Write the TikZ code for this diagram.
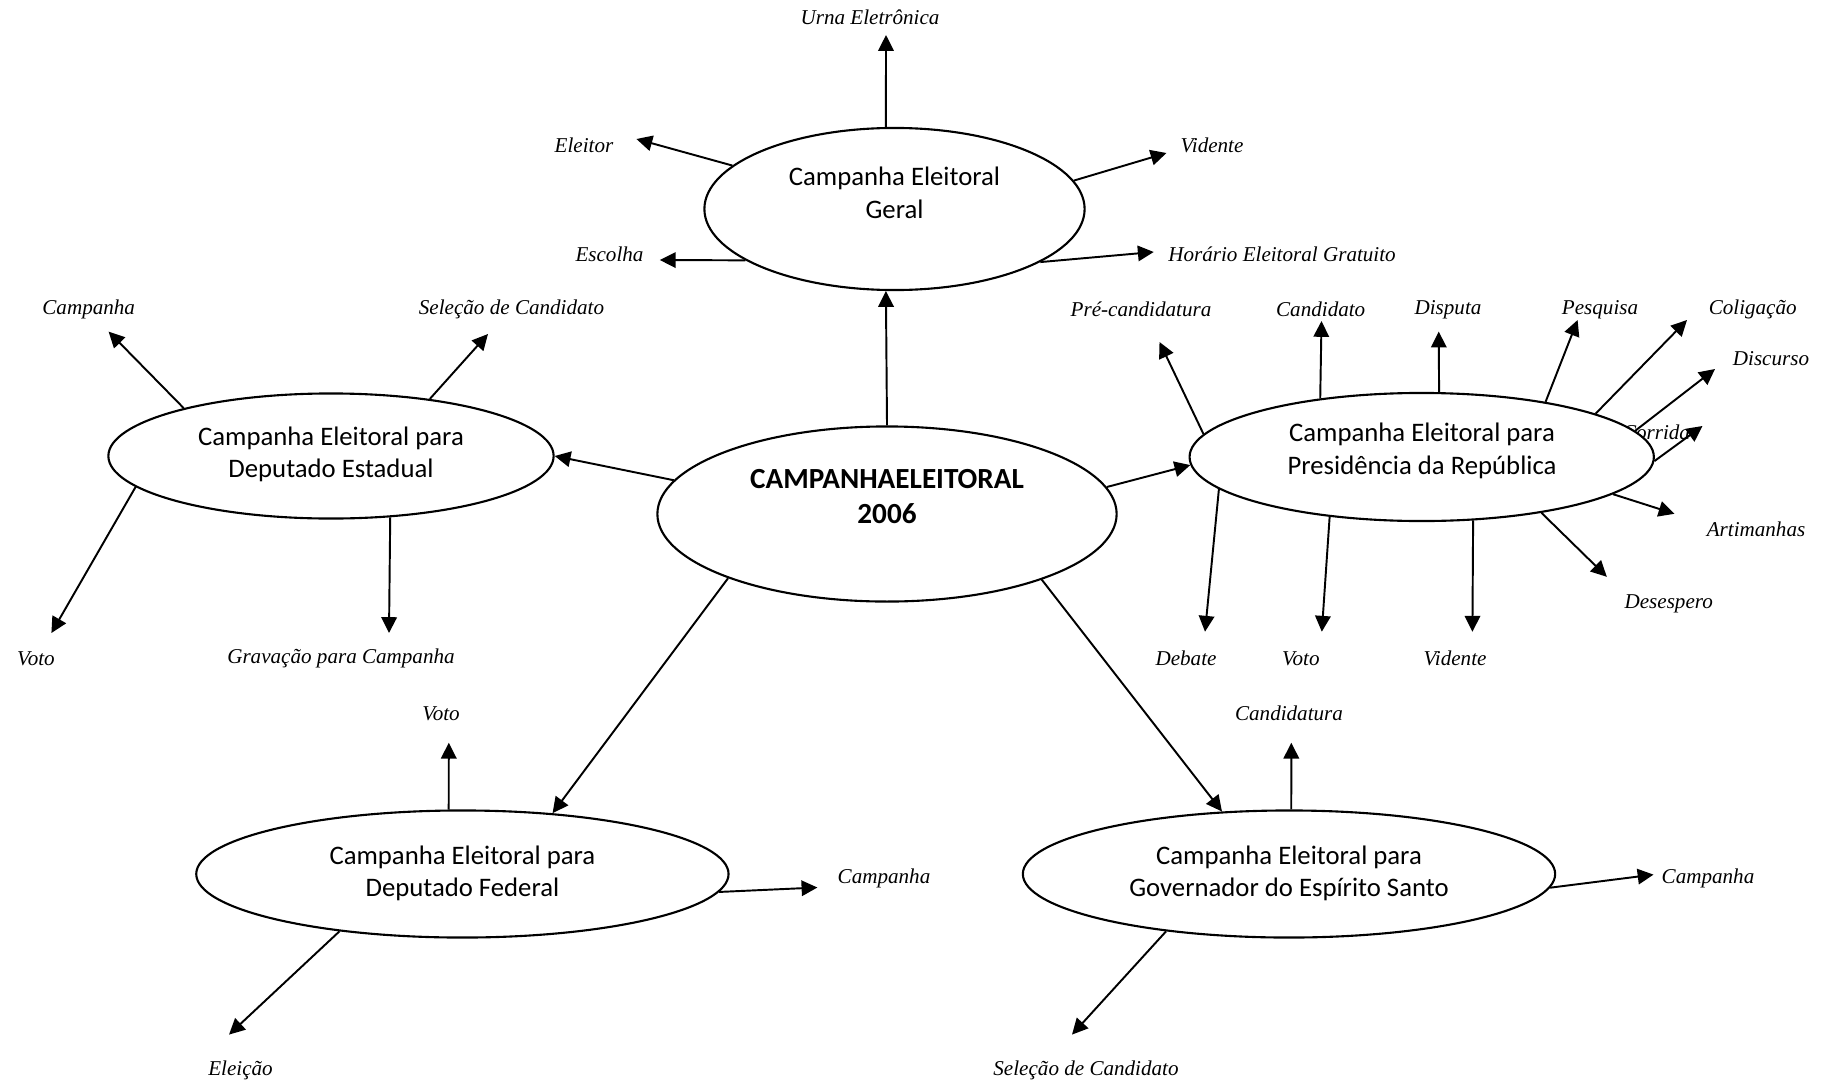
\documentclass[tikz,border=0pt]{standalone}
\usepackage{fontspec}
\setmainfont{Liberation Serif}
\newfontfamily\calib{Carlito}
\usetikzlibrary{shapes.geometric,arrows.meta}
\begin{document}
\begin{tikzpicture}[x=0.01cm,y=-0.01cm,
  ell/.style={draw,ellipse,fill=white,line width=0.6pt,inner sep=0pt},
  etext/.style={font=\calib\fontsize{7.6}{9.3}\selectfont,align=center,inner sep=0pt},
  ctext/.style={font=\calib\bfseries\fontsize{8.3}{10.1}\selectfont,align=center,inner sep=0pt},
  lab/.style={font=\itshape\fontsize{6}{7}\selectfont,inner sep=0pt},
  arr/.style={line width=0.55pt,-{Triangle[length=4.5pt,width=4.4pt]}}]
\useasboundingbox[fill=white] (0,0) rectangle (1831,1085);

% labels
\node[lab] (lUrna) at (870,17.5) {Urna Eletrônica};
\node[lab] (lEleitor) at (584,145) {Eleitor};
\node[lab] (lVidG) at (1212,145) {Vidente};
\node[lab] (lEscolha) at (609.5,254.5) {Escolha};
\node[lab] (lHorario) at (1282,254.5) {Horário Eleitoral Gratuito};
\node[lab] (lCampE) at (88.7,309.4) {Campanha};
\node[lab] (lSelE) at (511.5,309.4) {Seleção de Candidato};
\node[lab] (lVotoE) at (36,658.6) {Voto};
\node[lab] (lGravE) at (341,658.6) {Gravação para Campanha};
\node[lab] (lPre) at (1141,309.4) {Pré-candidatura};
\node[lab] (lCand) at (1320.7,309.4) {Candidato};
\node[lab] (lDisp) at (1448,309.4) {Disputa};
\node[lab] (lPesq) at (1600,309.4) {Pesquisa};
\node[lab] (lColig) at (1752.7,309.4) {Coligação};
\node[lab] (lDisc) at (1771,358.5) {Discurso};
\node[lab] (lCorr) at (1656,432) {Corrida};
\node[lab] (lArti) at (1756,529) {Artimanhas};
\node[lab] (lDese) at (1668.7,603.7) {Desespero};
\node[lab] (lDeb) at (1186,658.6) {Debate};
\node[lab] (lVotoP) at (1300.8,658.6) {Voto};
\node[lab] (lVidP) at (1455,658.6) {Vidente};
\node[lab] (lVotoF) at (441,713.5) {Voto};
\node[lab] (lCampF) at (884,878) {Campanha};
\node[lab] (lElei) at (240.5,1070.8) {Eleição};
\node[lab] (lCandi) at (1289,713.5) {Candidatura};
\node[lab] (lCampG) at (1708,878) {Campanha};
\node[lab] (lSelG) at (1086,1070.8) {Seleção de Candidato};

% ellipses
\node[ell,minimum width=4.59cm,minimum height=1.75cm] (central) at (887,514) {};
\node[ell,minimum width=3.80cm,minimum height=1.62cm] (geral) at (894.5,209) {};
\node[ell,minimum width=4.45cm,minimum height=1.25cm] (estadual) at (331,456) {};
\node[ell,minimum width=4.64cm,minimum height=1.28cm] (pres) at (1421.7,457) {};
\node[ell,minimum width=5.32cm,minimum height=1.27cm] (federal) at (462.4,874) {};
\node[ell,minimum width=5.32cm,minimum height=1.27cm] (gov) at (1289,874) {};

% ellipse texts
\node[ctext] (centralT) at (887,496.3) {CAMPANHAELEITORAL\\2006};
\node[etext] (geralT) at (894.5,192.7) {Campanha Eleitoral\\Geral};
\node[etext] (estadualT) at (331,454.5) {Campanha Eleitoral para\\Deputado Estadual};
\node[etext] (presT) at (1422,450.8) {Campanha Eleitoral para\\Presidência da República};
\node[etext] (federalT) at (462.4,873.5) {Campanha Eleitoral para\\Deputado Federal};
\node[etext] (govT) at (1289,873.5) {Campanha Eleitoral para\\Governador do Espírito Santo};

% arrow end points
\coordinate (eUrna) at (886,35);
\coordinate (eEleitor) at (636.4,139);
\coordinate (eVidG) at (1166.5,153);
\coordinate (eEscolha) at (659.8,260);
\coordinate (eHorario) at (1153.7,252);
\coordinate (eCampE) at (108.6,331.6);
\coordinate (eSelE) at (488,334);
\coordinate (eVotoE) at (51.4,633);
\coordinate (eGravE) at (389,633);
\coordinate (ePre) at (1159.5,342);
\coordinate (eCand) at (1321.5,321);
\coordinate (eDisp) at (1438.7,331.6);
\coordinate (ePesq) at (1577.6,320);
\coordinate (eColig) at (1687,320);
\coordinate (eDisc) at (1715,369);
\coordinate (eCorr) at (1702.5,426);
\coordinate (eArti) at (1674.5,513.8);
\coordinate (eDese) at (1606.8,576.8);
\coordinate (eVidP) at (1472.4,631.7);
\coordinate (eVotoP) at (1321.8,631.7);
\coordinate (eDeb) at (1205,631.7);
\coordinate (eVotoF) at (448.8,742.7);
\coordinate (eCampF) at (817.4,887.5);
\coordinate (eElei) at (229,1034.6);
\coordinate (eCandi) at (1291.3,742.7);
\coordinate (eCampG) at (1653.5,874.6);
\coordinate (eSelG) at (1072,1034.6);

% central connectors
\draw[arr] (central.90) -- (geral.264);
\draw[arr] (central.171.4) -- (estadual.east);
\draw[arr] (central.7.7) -- (pres.182);
\draw[arr] (central.202.3) -- (federal.34);
\draw[arr] (central.337.6) -- (gov.137);

% geral
\draw[arr] (geral.96) -- (eUrna);
\draw[arr] (geral.165) -- (eEleitor);
\draw[arr] (geral.9) -- (eVidG);
\draw[arr] (geral.199) -- (eEscolha);
\draw[arr] (geral.340) -- (eHorario);

% estadual
\draw[arr] (estadual.162) -- (eCampE);
\draw[arr] (estadual.30) -- (eSelE);
\draw[arr] (estadual.189) -- (eVotoE);
\draw[arr] (estadual.314) -- (eGravE);

% presidencia
\draw[arr] (pres.174) -- (ePre);
\draw[arr] (pres.150) -- (eCand);
\draw[arr] (pres.75) -- (eDisp);
\draw[arr] (pres.24) -- (ePesq);
\draw[arr] (pres.14) -- (eColig);
\draw[arr] (pres.7) -- (eDisc);
\draw[arr] (pres.359) -- (eCorr);
\draw[arr] (pres.349) -- (eArti);
\draw[arr] (pres.335) -- (eDese);
\draw[arr] (pres.309) -- (eVidP);
\draw[arr] (pres.213) -- (eVotoP);
\draw[arr] (pres.189) -- (eDeb);

% federal
\draw[arr] (federal.102) -- (eVotoF);
\draw[arr] (federal.356) -- (eCampF);
\draw[arr] (federal.205) -- (eElei);

% governador
\draw[arr] (gov.88) -- (eCandi);
\draw[arr] (gov.357) -- (eCampG);
\draw[arr] (gov.205) -- (eSelG);
\end{tikzpicture}
\end{document}
